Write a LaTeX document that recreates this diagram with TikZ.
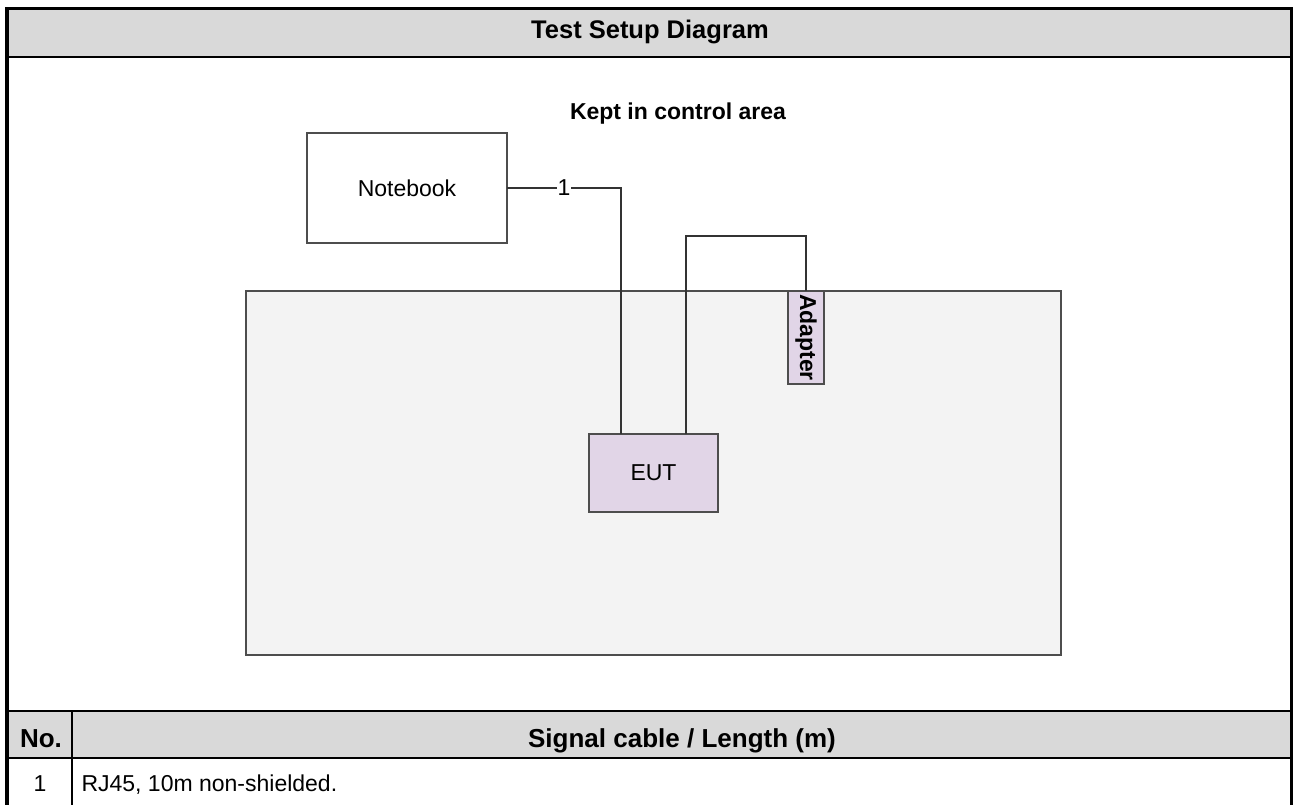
\documentclass[tikz,border=0pt]{standalone}
\usepackage{fontspec}
\usepackage{graphicx}
\setmainfont{Liberation Sans}
\usetikzlibrary{positioning}
\definecolor{headgray}{HTML}{D9D9D9}
\definecolor{areagray}{HTML}{F3F3F3}
\definecolor{eutfill}{HTML}{E1D5E7}
\definecolor{boxline}{HTML}{4D4D4D}
\definecolor{cableline}{HTML}{333333}
\begin{document}
\begin{tikzpicture}[x=1pt,y=-1pt,
    box/.style={draw=boxline, line width=1.5pt, inner sep=0pt, outer sep=0pt,
      font=\fontsize{23}{27}\selectfont},
    cable/.style={draw=cableline, line width=1.5pt},
    headtext/.style={font=\fontsize{26}{31}\selectfont\bfseries, anchor=base},
    rowtext/.style={font=\fontsize{23}{27}\selectfont, anchor=base}]
   \useasboundingbox (0,0) rectangle (1293,805);

   % table frame
   \fill[headgray] (7,8) rectangle (1291,57);
   \fill[headgray] (7,711) rectangle (1291,758);
   \draw[line width=2.5pt] (7,57) -- (1291.5,57);
   \draw[line width=2pt] (7,711) -- (1291.5,711);
   \draw[line width=2.5pt] (7,758) -- (1291.5,758);
   \draw[line width=1.5pt] (72,711) -- (72,805);
   \draw[line width=3.5pt] (7,805) -- (7,8.3) -- (1291.5,8.3) -- (1291.5,805);

   \node[headtext, font=\fontsize{25.5}{30}\selectfont\bfseries] (title) at (650,39) {Test Setup Diagram};
   \node[headtext] (nohead) at (41,747) {No.};
   \node[headtext] (cablehead) at (682,747) {Signal cable / Length (m)};
   \node[rowtext] (no1) at (40,791) {1};
   \node[rowtext, anchor=base west] (cable1) at (78,791) {RJ45, 10m non-shielded.};

   % setup
   \node[box, fill=areagray, minimum width=815pt, minimum height=364pt] (area) at (653.5,473) {};
   \node[headtext, font=\fontsize{23}{27}\selectfont\bfseries] (areatitle) at (678,120) {Kept in control area};
   \node[box, fill=white, minimum width=200pt, minimum height=110pt] (notebook) at (407,188) {Notebook};
   \node[box, fill=eutfill, minimum width=129pt, minimum height=78pt] (eut) at (653.5,473) {EUT};
   \node[box, fill=eutfill, minimum width=36pt, minimum height=93pt] (adapter) at (806,337.5) {\rotatebox{-90}{\bfseries Adapter}};

   \coordinate (eutleft) at ([xshift=32pt]eut.north west);
   \coordinate (eutright) at ([xshift=97pt]eut.north west);
   \coordinate (cabletop) at (686,236);

   \draw[cable] (notebook.east) -- node[fill=white, inner sep=1pt, font=\fontsize{23}{27}\selectfont] (label1) {1} (notebook.east -| eutleft) -- (eutleft);
   \draw[cable] (eutright) -- (eutright |- cabletop) -| (adapter.north);
 \end{tikzpicture}
\end{document}
